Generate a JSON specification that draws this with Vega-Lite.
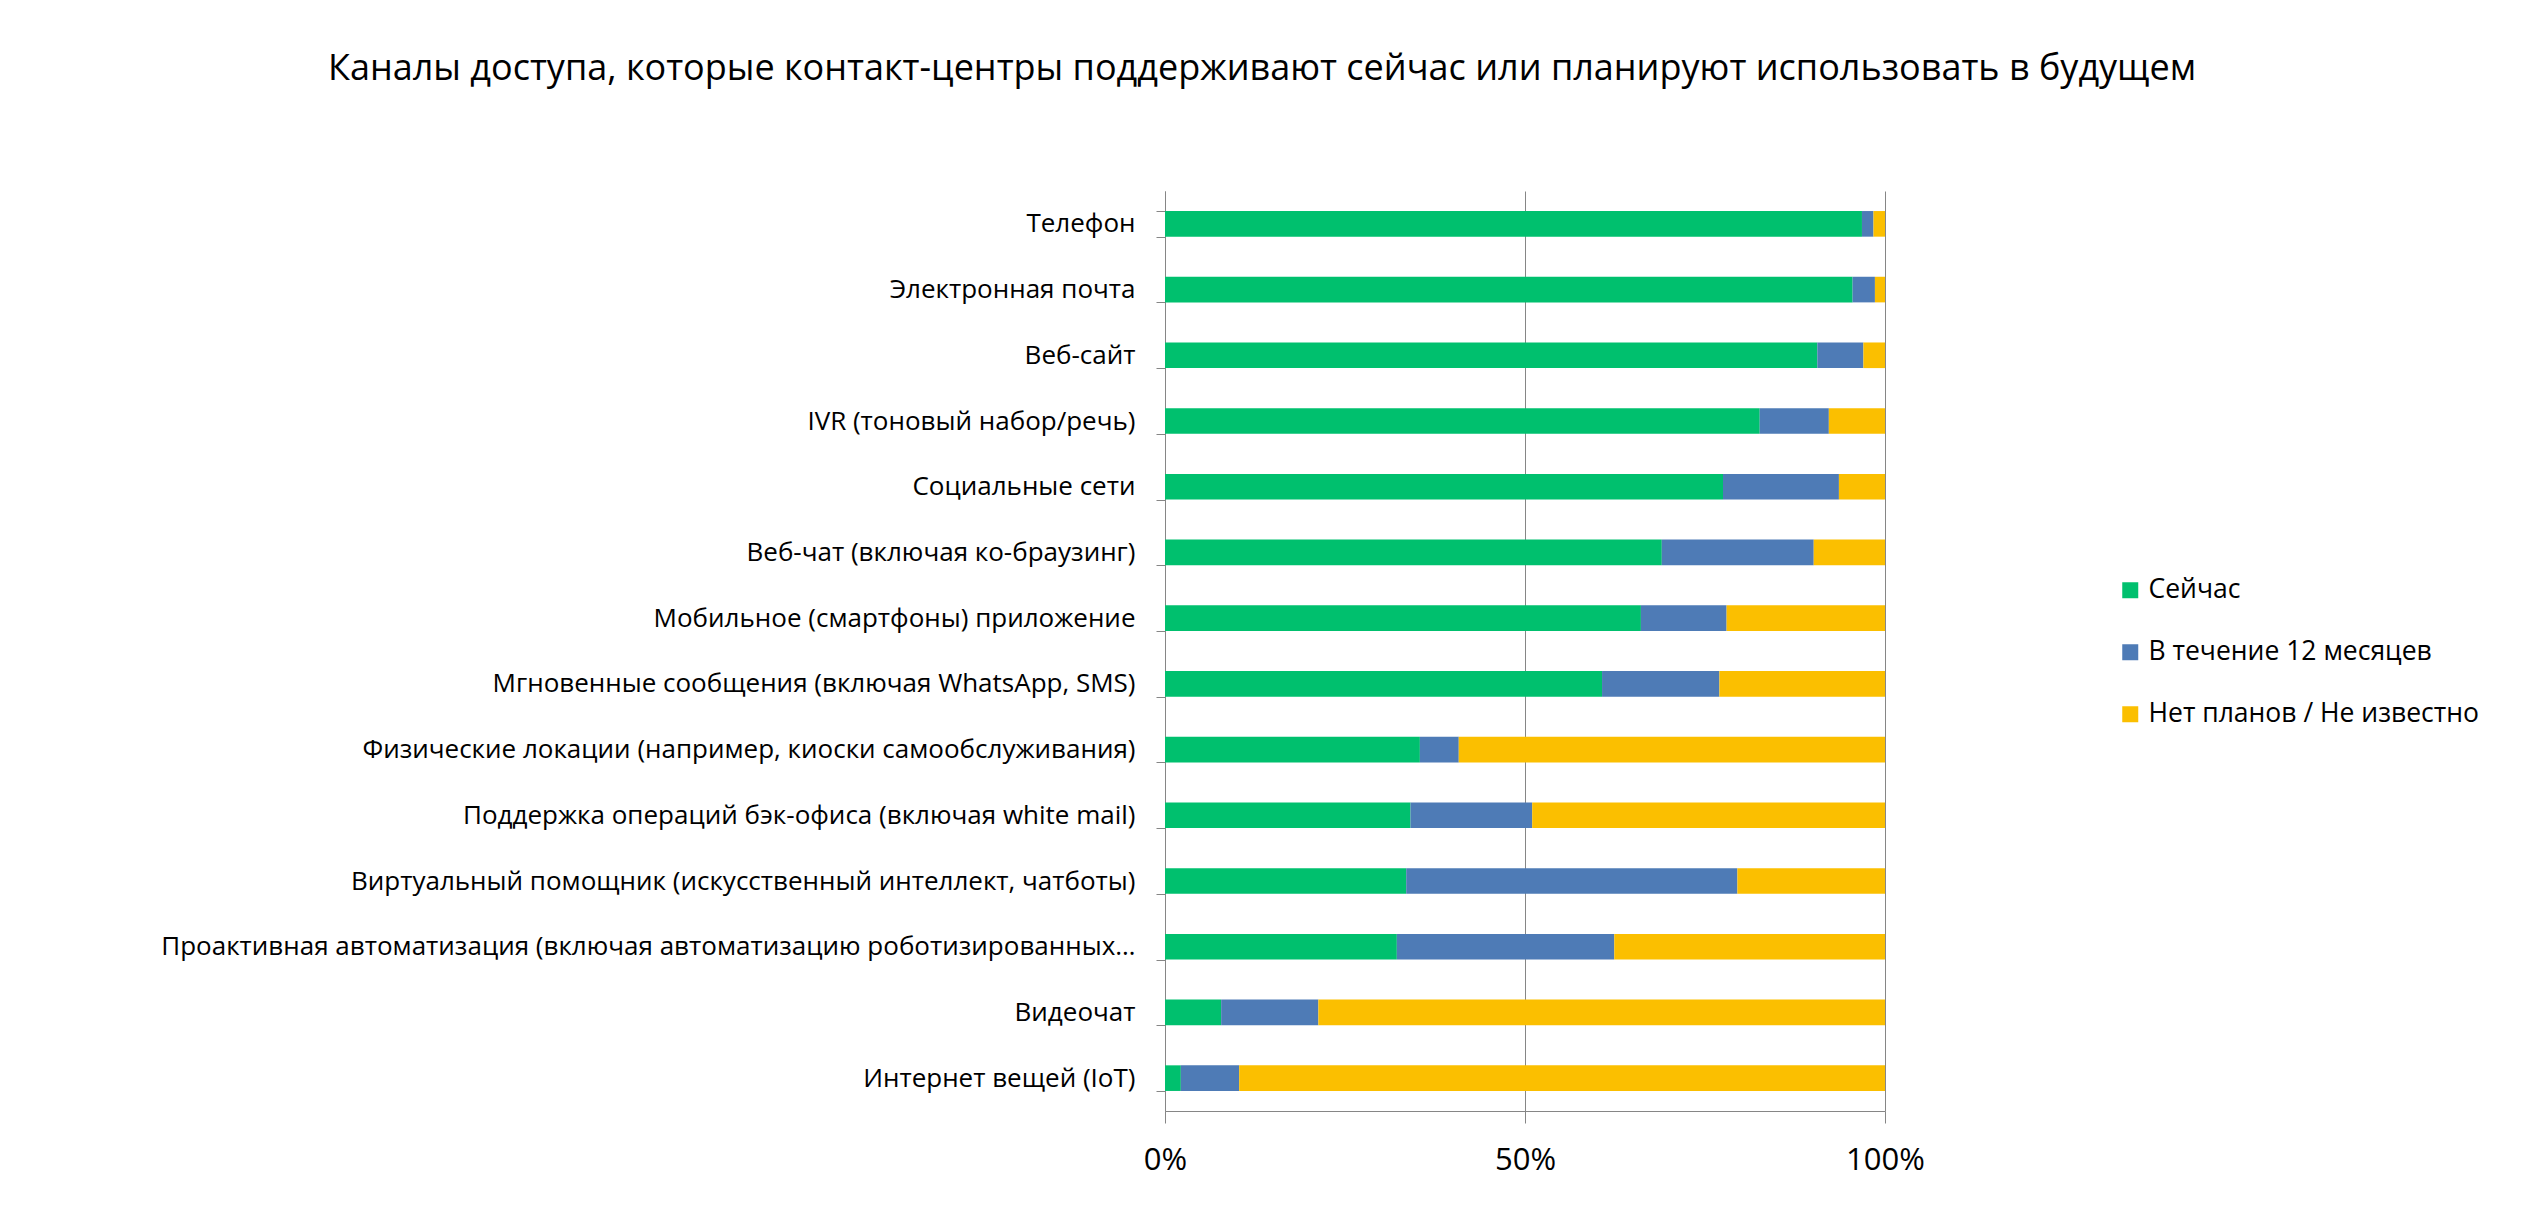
{
  "$schema": "https://vega.github.io/schema/vega-lite/v6.json",
  "autosize": {"type": "none"},
  "width": 720,
  "height": 920,
  "padding": {"left": 1165, "top": 191, "right": 639, "bottom": 109},
  "background": "white",
  "title": {
    "text": "Каналы доступа, которые контакт-центры поддерживают сейчас или планируют использовать в будущем",
    "anchor": "middle",
    "frame": "group",
    "dx": -263,
    "offset": 90,
    "font": "Open Sans",
    "fontSize": 36,
    "fontWeight": "normal",
    "color": "#000000"
  },
  "data": {
    "values": [
      {"channel": "Телефон", "status": "Сейчас", "o": 1, "value": 96.8},
      {"channel": "Телефон", "status": "В течение 12 месяцев", "o": 2, "value": 1.6},
      {"channel": "Телефон", "status": "Нет планов / Не известно", "o": 3, "value": 1.6},
      {"channel": "Электронная почта", "status": "Сейчас", "o": 1, "value": 95.5},
      {"channel": "Электронная почта", "status": "В течение 12 месяцев", "o": 2, "value": 3.1},
      {"channel": "Электронная почта", "status": "Нет планов / Не известно", "o": 3, "value": 1.4},
      {"channel": "Веб-сайт", "status": "Сейчас", "o": 1, "value": 90.6},
      {"channel": "Веб-сайт", "status": "В течение 12 месяцев", "o": 2, "value": 6.4},
      {"channel": "Веб-сайт", "status": "Нет планов / Не известно", "o": 3, "value": 3.0},
      {"channel": "IVR (тоновый набор/речь)", "status": "Сейчас", "o": 1, "value": 82.6},
      {"channel": "IVR (тоновый набор/речь)", "status": "В течение 12 месяцев", "o": 2, "value": 9.6},
      {"channel": "IVR (тоновый набор/речь)", "status": "Нет планов / Не известно", "o": 3, "value": 7.8},
      {"channel": "Социальные сети", "status": "Сейчас", "o": 1, "value": 77.5},
      {"channel": "Социальные сети", "status": "В течение 12 месяцев", "o": 2, "value": 16.1},
      {"channel": "Социальные сети", "status": "Нет планов / Не известно", "o": 3, "value": 6.4},
      {"channel": "Веб-чат (включая ко-браузинг)", "status": "Сейчас", "o": 1, "value": 69.0},
      {"channel": "Веб-чат (включая ко-браузинг)", "status": "В течение 12 месяцев", "o": 2, "value": 21.1},
      {"channel": "Веб-чат (включая ко-браузинг)", "status": "Нет планов / Не известно", "o": 3, "value": 9.9},
      {"channel": "Мобильное (смартфоны) приложение", "status": "Сейчас", "o": 1, "value": 66.1},
      {"channel": "Мобильное (смартфоны) приложение", "status": "В течение 12 месяцев", "o": 2, "value": 11.9},
      {"channel": "Мобильное (смартфоны) приложение", "status": "Нет планов / Не известно", "o": 3, "value": 22.0},
      {"channel": "Мгновенные сообщения (включая WhatsApp, SMS)", "status": "Сейчас", "o": 1, "value": 60.7},
      {"channel": "Мгновенные сообщения (включая WhatsApp, SMS)", "status": "В течение 12 месяцев", "o": 2, "value": 16.3},
      {"channel": "Мгновенные сообщения (включая WhatsApp, SMS)", "status": "Нет планов / Не известно", "o": 3, "value": 23.0},
      {"channel": "Физические локации (например, киоски самообслуживания)", "status": "Сейчас", "o": 1, "value": 35.4},
      {"channel": "Физические локации (например, киоски самообслуживания)", "status": "В течение 12 месяцев", "o": 2, "value": 5.4},
      {"channel": "Физические локации (например, киоски самообслуживания)", "status": "Нет планов / Не известно", "o": 3, "value": 59.2},
      {"channel": "Поддержка операций бэк-офиса (включая white mail)", "status": "Сейчас", "o": 1, "value": 34.1},
      {"channel": "Поддержка операций бэк-офиса (включая white mail)", "status": "В течение 12 месяцев", "o": 2, "value": 16.9},
      {"channel": "Поддержка операций бэк-офиса (включая white mail)", "status": "Нет планов / Не известно", "o": 3, "value": 49.0},
      {"channel": "Виртуальный помощник (искусственный интеллект, чатботы)", "status": "Сейчас", "o": 1, "value": 33.5},
      {"channel": "Виртуальный помощник (искусственный интеллект, чатботы)", "status": "В течение 12 месяцев", "o": 2, "value": 46.0},
      {"channel": "Виртуальный помощник (искусственный интеллект, чатботы)", "status": "Нет планов / Не известно", "o": 3, "value": 20.5},
      {"channel": "Проактивная автоматизация (включая автоматизацию роботизированных…", "status": "Сейчас", "o": 1, "value": 32.2},
      {"channel": "Проактивная автоматизация (включая автоматизацию роботизированных…", "status": "В течение 12 месяцев", "o": 2, "value": 30.2},
      {"channel": "Проактивная автоматизация (включая автоматизацию роботизированных…", "status": "Нет планов / Не известно", "o": 3, "value": 37.6},
      {"channel": "Видеочат", "status": "Сейчас", "o": 1, "value": 7.8},
      {"channel": "Видеочат", "status": "В течение 12 месяцев", "o": 2, "value": 13.5},
      {"channel": "Видеочат", "status": "Нет планов / Не известно", "o": 3, "value": 78.7},
      {"channel": "Интернет вещей (IoT)", "status": "Сейчас", "o": 1, "value": 2.2},
      {"channel": "Интернет вещей (IoT)", "status": "В течение 12 месяцев", "o": 2, "value": 8.1},
      {"channel": "Интернет вещей (IoT)", "status": "Нет планов / Не известно", "o": 3, "value": 89.7}
    ]
  },
  "mark": {"type": "bar"},
  "encoding": {
    "y": {
      "field": "channel",
      "type": "nominal",
      "sort": null,
      "scale": {"paddingInner": 0.61, "paddingOuter": 0.305},
      "axis": {
        "title": null,
        "tickBand": "extent",
        "tickSize": 9,
        "tickColor": "#868686",
        "domainColor": "#868686",
        "labelFont": "Open Sans",
        "labelFontSize": 26,
        "labelColor": "#000000",
        "labelPadding": 21,
        "labelLimit": 1200
      }
    },
    "x": {
      "field": "value",
      "type": "quantitative",
      "stack": "normalize",
      "scale": {"domain": [0, 1]},
      "axis": {
        "title": null,
        "values": [0, 0.5, 1],
        "format": ".0%",
        "grid": true,
        "gridColor": "#868686",
        "tickColor": "#868686",
        "domainColor": "#868686",
        "tickSize": 12,
        "labelFont": "Open Sans",
        "labelFontSize": 31,
        "labelColor": "#000000",
        "labelPadding": 22,
        "labelFlush": false
      }
    },
    "color": {
      "field": "status",
      "type": "nominal",
      "scale": {
        "domain": ["Сейчас", "В течение 12 месяцев", "Нет планов / Не известно"],
        "range": ["#00C06E", "#4E7BB6", "#FBBF00"]
      },
      "legend": {
        "title": null,
        "orient": "none",
        "legendX": 952,
        "legendY": 386,
        "symbolType": "square",
        "symbolSize": 256,
        "symbolStrokeWidth": 0,
        "labelFont": "Open Sans",
        "labelFontSize": 26.5,
        "labelColor": "#000000",
        "labelOffset": 5,
        "rowPadding": 35,
        "labelLimit": 600
      }
    },
    "order": {"field": "o", "type": "quantitative"}
  },
  "config": {"view": {"stroke": null}}
}
